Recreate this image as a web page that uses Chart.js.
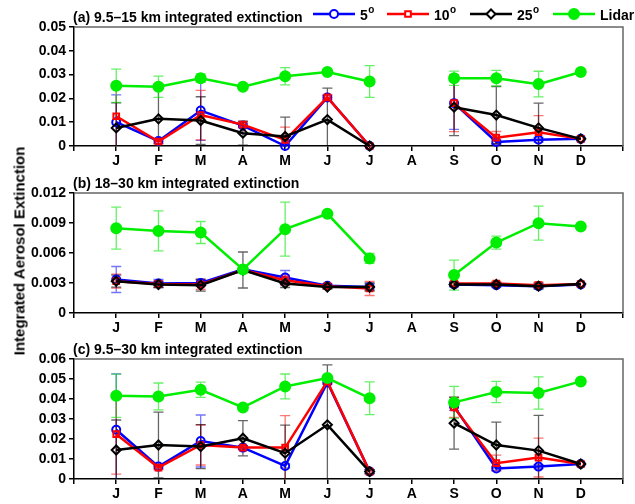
<!DOCTYPE html>
<html>
<head>
<meta charset="utf-8">
<script src="https://cdn.jsdelivr.net/npm/chart.js@4.4.1/dist/chart.umd.min.js"></script>
<style>
  body { margin: 0; background: #fff; }
  #wrap { position: relative; width: 635px; height: 504px; overflow: hidden; }
  canvas { position: absolute; left: 0; }
  #ytitle {
    position: absolute; left: 19px; top: 251px;
    transform: translate(-50%, -50%) rotate(-90deg);
    font: bold 15px "Liberation Sans", Arial, sans-serif;
    white-space: nowrap; color: #000;
  }
</style>
</head>
<body>
<div id="wrap">
  <canvas id="panelA" width="635" height="170" style="top:0px"></canvas>
  <canvas id="panelB" width="635" height="170" style="top:170px"></canvas>
  <canvas id="panelC" width="635" height="169" style="top:335px"></canvas>
  <div id="ytitle">Integrated Aerosol Extinction</div>
</div>
<script>
const MONTHS = ['J', 'F', 'M', 'A', 'M', 'J', 'J', 'A', 'S', 'O', 'N', 'D'];

// (a) 9.5-15 km
const A_5 = [0.0100, 0.0021, 0.0149, 0.0086, 0.0000, 0.0204, 0.0000, null, 0.0180, 0.0017, 0.0026, 0.0030];
const A_5_ERR = [0.0115, 0.0010, 0.0125, 0.0010, 0.0010, 0.0010, 0, null, 0.0110, 0.0010, 0.0010, 0];
const A_10 = [0.0125, 0.0019, 0.0130, 0.0090, 0.0026, 0.0204, 0.0000, null, 0.0180, 0.0035, 0.0058, 0.0030];
const A_10_ERR = [0.0135, 0.0010, 0.0104, 0.0010, 0.0053, 0.0010, 0, null, 0.0120, 0.0026, 0.0070, 0];
const A_25 = [0.0076, 0.0114, 0.0107, 0.0054, 0.0040, 0.0111, 0.0000, null, 0.0163, 0.0130, 0.0076, 0.0030];
const A_25_ERR = [0.0105, 0.0146, 0.0100, 0.0050, 0.0081, 0.0132, 0, null, 0.0119, 0.0120, 0.0104, 0];
const A_LIDAR = [0.0253, 0.0249, 0.0285, 0.0249, 0.0293, 0.0311, 0.0271, null, 0.0285, 0.0285, 0.0260, 0.0311];
const A_LIDAR_ERR = [0.0070, 0.0045, 0.0018, 0, 0.0036, 0, 0.0067, null, 0.0030, 0.0033, 0.0054, 0];

// (b) 18-30 km
const B_5 = [0.00335, 0.00295, 0.00300, 0.00436, 0.00355, 0.00272, 0.00260, null, 0.00285, 0.00278, 0.00268, 0.00285];
const B_5_ERR = [0.0013, 0.0004, 0.0003, 0.0002, 0.0007, 0.0002, 0.0003, null, 0.0002, 0.0002, 0.0002, 0];
const B_10 = [0.00318, 0.00290, 0.00285, 0.00430, 0.00328, 0.00268, 0.00245, null, 0.00295, 0.00295, 0.00278, 0.00290];
const B_10_ERR = [0.0007, 0.0003, 0.0005, 0.0003, 0.0005, 0.0002, 0.0007, null, 0.0002, 0.0002, 0.0003, 0];
const B_25 = [0.00318, 0.00285, 0.00278, 0.00430, 0.00295, 0.00260, 0.00260, null, 0.00285, 0.00285, 0.00268, 0.00290];
const B_25_ERR = [0.0006, 0.0003, 0.0006, 0.0018, 0.0004, 0.0002, 0.0004, null, 0.0002, 0.0002, 0.0003, 0];
const B_LIDAR = [0.00848, 0.00821, 0.00805, 0.00436, 0.00838, 0.00992, 0.00546, null, 0.00379, 0.00704, 0.00898, 0.00865];
const B_LIDAR_ERR = [0.0021, 0.0020, 0.0011, 0, 0.0027, 0, 0.0005, null, 0.0015, 0.00065, 0.0017, 0];

// (c) 9.5-30 km
const C_5 = [0.0246, 0.0062, 0.0190, 0.0157, 0.0065, 0.0483, 0.0037, null, 0.0363, 0.0053, 0.0062, 0.0075];
const C_5_ERR = [0.0280, 0.0010, 0.0130, 0.0010, 0.0010, 0.0010, 0.0010, null, 0.0020, 0.0010, 0.0010, 0];
const C_10 = [0.0224, 0.0057, 0.0170, 0.0157, 0.0157, 0.0488, 0.0037, null, 0.0358, 0.0079, 0.0107, 0.0075];
const C_10_ERR = [0.0200, 0.0010, 0.0100, 0.0010, 0.0160, 0.0010, 0.0010, null, 0.0050, 0.0040, 0.0097, 0];
const C_25 = [0.0145, 0.0170, 0.0162, 0.0204, 0.0129, 0.0271, 0.0037, null, 0.0279, 0.0170, 0.0142, 0.0075];
const C_25_ERR = [0.0150, 0.0164, 0.0110, 0.0088, 0.0140, 0.0300, 0.0010, null, 0.0130, 0.0114, 0.0176, 0];
const C_LIDAR = [0.0416, 0.0413, 0.0446, 0.0358, 0.0463, 0.0505, 0.0404, null, 0.0383, 0.0435, 0.0430, 0.0488];
const C_LIDAR_ERR = [0.0108, 0.0067, 0.0038, 0, 0.0062, 0, 0.0082, null, 0.0080, 0.0053, 0.0081, 0];

const FONT = '"Liberation Sans", Arial, sans-serif';

// legend entries: label, superscript, colour, marker
const SERIES = [
    { label: '5', sup: 'o', color: '#0000ff', err: 'rgba(0,0,255,0.55)', style: 'circle', radius: 4, fill: false, order: 3 },
    { label: '10', sup: 'o', color: '#ff0000', err: 'rgba(255,0,0,0.55)', style: 'rect', radius: 4, fill: false, order: 2 },
    { label: '25', sup: 'o', color: '#000000', err: 'rgba(0,0,0,0.6)', style: 'rectRot', radius: 4.5, fill: false, order: 1 },
    { label: 'Lidar', sup: '', color: '#00ee00', err: 'rgba(0,230,0,0.6)', style: 'circle', radius: 5, fill: true, order: 0 }
];

const toPoints = (vals) => vals.map((v, i) => ({ x: i + 1, y: v }));

// error bars drawn with the chart scales
const errorBars = {
    id: 'errorBars',
    beforeDatasetsDraw(chart) {
        const ctx = chart.ctx;
        const { left, right, top, bottom } = chart.chartArea;
        const xs = chart.scales.x, ys = chart.scales.y;
        ctx.save();
        ctx.beginPath();
        ctx.rect(left, top - 1, right - left, bottom - top + 1);
        ctx.clip();
        const sets = chart.data.datasets.slice().sort((a, b) => b.order - a.order);
        sets.forEach((ds) => {
            ctx.strokeStyle = ds.errColor;
            ctx.lineWidth = 1.3;
            ds.data.forEach((p, i) => {
                const e = ds.errors[i];
                if (p.y == null || !e) return;
                const x = xs.getPixelForValue(p.x);
                const y1 = ys.getPixelForValue(p.y + e);
                const y2 = ys.getPixelForValue(p.y - e);
                ctx.beginPath();
                ctx.moveTo(x, y1); ctx.lineTo(x, y2);
                ctx.moveTo(x - 5, y1); ctx.lineTo(x + 5, y1);
                ctx.moveTo(x - 5, y2); ctx.lineTo(x + 5, y2);
                ctx.stroke();
            });
        });
        ctx.restore();
    }
};

// grey top/right frame and panel title
const frame = {
    id: 'frame',
    afterDraw(chart, args, opts) {
        const ctx = chart.ctx;
        const { left, right, top, bottom } = chart.chartArea;
        ctx.save();
        ctx.strokeStyle = '#666';
        ctx.lineWidth = 1.5;
        ctx.beginPath();
        ctx.moveTo(left, top);
        ctx.lineTo(right, top);
        ctx.lineTo(right, bottom);
        ctx.stroke();
        ctx.fillStyle = '#000';
        ctx.font = 'bold 14px ' + FONT;
        ctx.textBaseline = 'middle';
        ctx.textAlign = 'left';
        ctx.fillText(opts.title, left - 1, top - 9);
        ctx.restore();
    }
};

const lineLegend = {
    id: 'lineLegend',
    afterDraw(chart, args, opts) {
        if (!opts.show) return;
        const ctx = chart.ctx;
        const y = 14;
        const starts = [313, 387, 470, 553];
        ctx.save();
        SERIES.forEach((s, i) => {
            const x0 = starts[i], x1 = x0 + 42;
            ctx.strokeStyle = s.color;
            ctx.lineWidth = 2.5;
            ctx.beginPath(); ctx.moveTo(x0, y); ctx.lineTo(x1, y); ctx.stroke();
            ctx.fillStyle = s.fill ? s.color : '#fff';
            ctx.lineWidth = 2;
            Chart.helpers.drawPoint(ctx, {
                pointStyle: s.style, radius: s.radius, borderWidth: 2
            }, (x0 + x1) / 2, y);
            ctx.fillStyle = '#000';
            ctx.textBaseline = 'middle';
            ctx.textAlign = 'left';
            ctx.font = 'bold 14px ' + FONT;
            ctx.fillText(s.label, x1 + 5, y + 2);
            if (s.sup) {
                const w = ctx.measureText(s.label).width;
                ctx.font = 'bold 10px ' + FONT;
                ctx.fillText(s.sup, x1 + 5 + w + 0.5, y - 4);
            }
        });
        ctx.restore();
    }
};

function makePanel(id, title, series, errs, max, step, digits, pad, showLegend) {
    const datasets = SERIES.map((s, k) => ({
        label: s.label,
        data: toPoints(series[k]),
        errors: errs[k],
        errColor: s.err,
        borderColor: s.color,
        backgroundColor: s.color,
        borderWidth: 2.5,
        pointStyle: s.style,
        pointRadius: s.radius,
        pointBorderWidth: 2,
        pointBorderColor: s.color,
        pointBackgroundColor: s.fill ? s.color : 'rgba(255,255,255,0)',
        spanGaps: false,
        order: s.order,
        clip: 6
    }));
    return new Chart(document.getElementById(id), {
        type: 'line',
        data: { datasets },
        options: {
            responsive: false,
            animation: false,
            layout: { padding: { top: pad.top, right: 12, left: 0, bottom: 0 } },
            scales: {
                x: {
                    type: 'linear', min: 0, max: 13,
                    afterFit: (scale) => { scale.height = pad.bottom; },
                    afterBuildTicks: (scale) => {
                        scale.ticks = MONTHS.map((m, i) => ({ value: i + 1 }));
                        scale.ticks.unshift({ value: 0 });
                        scale.ticks.push({ value: 13 });
                    },
                    ticks: {
                        autoSkip: false, maxRotation: 0, padding: 2, color: '#000',
                        font: { family: FONT, size: 14, weight: 'bold' },
                        callback: (v) => (v >= 1 && v <= 12 ? MONTHS[v - 1] : '')
                    },
                    grid: { drawOnChartArea: false, drawTicks: true, tickLength: 5, color: '#000', lineWidth: 1.5 },
                    border: { color: '#000', width: 1.5 }
                },
                y: {
                    min: 0, max: max,
                    afterFit: (scale) => { scale.width = 74; },
                    ticks: {
                        stepSize: step, padding: 3, color: '#000',
                        font: { family: FONT, size: 14, weight: 'bold' },
                        callback: (v) => (Math.abs(v) < 1e-9 ? '0' : Number(v).toFixed(digits))
                    },
                    grid: { drawOnChartArea: false, drawTicks: true, tickLength: 5, color: '#000', lineWidth: 1.5 },
                    border: { color: '#000', width: 1.5 }
                }
            },
            plugins: {
                legend: { display: false },
                tooltip: { enabled: false },
                frame: { title: title },
                lineLegend: { show: showLegend }
            }
        },
        plugins: [errorBars, frame, lineLegend]
    });
}

makePanel('panelA', '(a) 9.5\u201315 km integrated extinction',
    [A_5, A_10, A_25, A_LIDAR], [A_5_ERR, A_10_ERR, A_25_ERR, A_LIDAR_ERR],
    0.05, 0.01, 2, { top: 27, bottom: 24 }, true);
makePanel('panelB', '(b) 18\u201330 km integrated extinction',
    [B_5, B_10, B_25, B_LIDAR], [B_5_ERR, B_10_ERR, B_25_ERR, B_LIDAR_ERR],
    0.012, 0.003, 3, { top: 23, bottom: 27 }, false);
makePanel('panelC', '(c) 9.5\u201330 km integrated extinction',
    [C_5, C_10, C_25, C_LIDAR], [C_5_ERR, C_10_ERR, C_25_ERR, C_LIDAR_ERR],
    0.06, 0.01, 2, { top: 24, bottom: 25 }, false);
</script>
</body>
</html>
